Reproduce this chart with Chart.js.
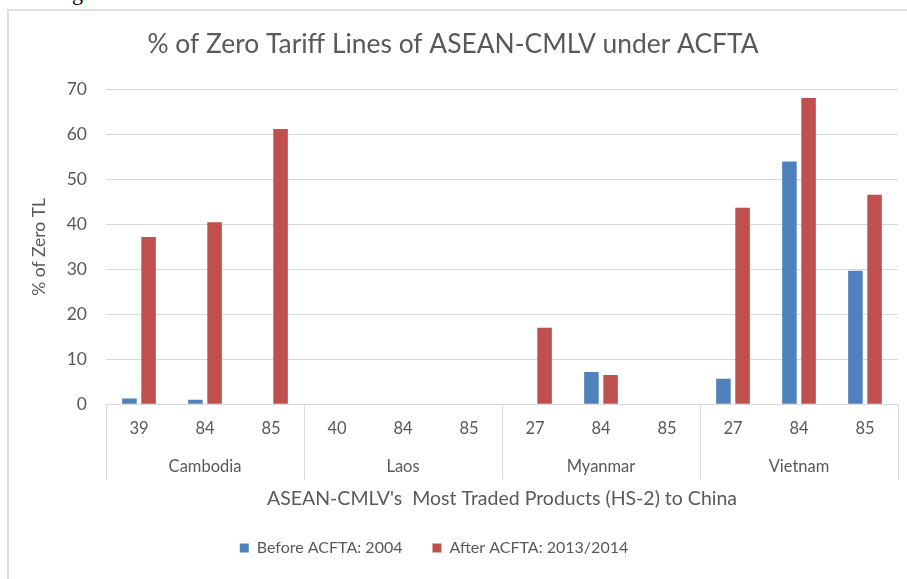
<!DOCTYPE html>
<html>
<head>
<meta charset="utf-8">
<script src="https://cdn.jsdelivr.net/npm/chart.js@4"></script>
<style>
  html, body { margin: 0; padding: 0; background: #ffffff; }
  #wrap { position: relative; width: 907px; height: 579px; overflow: hidden; background: #fff; }
  #frame { position: absolute; left: 7px; top: 9px; width: 920px; height: 600px;
           border-left: 2px solid #dcdcdc; border-top: 2px solid #e0e0e0; box-sizing: border-box; }
  #frag { position: absolute; left: 72px; top: -20px; font: 22px 'Liberation Serif'; color: #000; line-height: normal; }
  canvas { position: absolute; left: 0; top: 0; }
</style>
</head>
<body>
<div id="wrap">
  <div id="frag">g</div>
  <div id="frame"></div>
  <canvas id="c" width="907" height="579"></canvas>
</div>
<script>
const countries = ['Cambodia', 'Laos', 'Myanmar', 'Vietnam'];
const codes = ['39', '84', '85', '40', '84', '85', '27', '84', '85', '27', '84', '85'];
const beforeValues = [1.3, 1.0, 0, 0, 0, 0, 0, 7.2, 0, 5.7, 54.0, 29.7];
const afterValues = [37.2, 40.5, 61.2, 0, 0, 0, 17.0, 6.5, 0, 43.7, 68.1, 46.6];
const yTicks = [0, 10, 20, 30, 40, 50, 60, 70];
const seriesNames = ['Before ACFTA: 2004', 'After ACFTA: 2013/2014'];
const titleText = '% of Zero Tariff Lines of ASEAN-CMLV under ACFTA';
const xTitle = "ASEAN-CMLV's  Most Traded Products (HS-2) to China";
const yTitle = '% of Zero TL';

const FONT = 'Lato';
const TXT = '#595959';
const GRID = '#d9d9d9';

const groupPlugin = {
  id: 'groups',
  afterLayout(chart) {
    // legend in the reference sits a little left of the canvas centre
    const lg = chart.legend;
    if (lg) { lg.left -= 19; lg.right -= 19; }
  },
  afterDraw(chart) {
    const ctx = chart.ctx;
    const xs = chart.scales.x;
    const area = chart.chartArea;
    const n = codes.length;
    const per = n / countries.length;
    const step = (xs.right - xs.left) / n;
    ctx.save();
    ctx.strokeStyle = GRID;
    ctx.lineWidth = 1;
    for (let g = 0; g <= countries.length; g++) {
      const x = Math.round(xs.left + g * per * step) + 0.5;
      ctx.beginPath();
      ctx.moveTo(x, area.bottom);
      ctx.lineTo(x, area.bottom + 75);
      ctx.stroke();
    }
    ctx.fillStyle = TXT;
    ctx.font = '16.5px ' + FONT;
    ctx.textAlign = 'center';
    ctx.textBaseline = 'middle';
    countries.forEach((c, g) => {
      const x = xs.left + (g * per + per / 2) * step;
      ctx.fillText(c, x, area.bottom + 62);
    });
    ctx.restore();
  }
};

new Chart(document.getElementById('c'), {
  type: 'bar',
  data: {
    labels: codes,
    datasets: [
      { label: seriesNames[0], data: beforeValues, backgroundColor: '#4f81bd',
        categoryPercentage: 0.58, barPercentage: 0.76 },
      { label: seriesNames[1], data: afterValues, backgroundColor: '#c0504d',
        categoryPercentage: 0.58, barPercentage: 0.76 }
    ]
  },
  options: {
    responsive: false,
    animation: false,
    devicePixelRatio: 1,
    layout: { padding: { left: 8, top: 10, right: 9, bottom: 13 } },
    plugins: {
      title: {
        display: true, text: titleText, color: TXT,
        font: { family: FONT, size: 26.4, weight: 'normal' },
        padding: { top: 19, bottom: 28.8 }
      },
      legend: {
        display: true, position: 'bottom',
        labels: {
          color: TXT, font: { family: FONT, size: 16 },
          boxWidth: 9, boxHeight: 9, padding: 30
        }
      },
      tooltip: { enabled: false }
    },
    scales: {
      x: {
        grid: { display: false, drawTicks: false },
        border: { display: false },
        ticks: { color: TXT, font: { family: FONT, size: 16.5 }, padding: 14, maxRotation: 0, autoSkip: false },
        title: { display: true, text: xTitle, color: TXT, font: { family: FONT, size: 19.5 }, padding: { top: 0, bottom: 0 } },
        afterFit(s) { s.height = 105.7; }
      },
      y: {
        min: 0, max: 70,
        afterBuildTicks(s) { s.ticks = yTicks.map(v => ({ value: v })); },
        grid: { color: GRID, drawTicks: false },
        border: { display: false },
        ticks: { color: TXT, font: { family: FONT, size: 17.5 }, padding: 19 },
        title: { display: true, text: yTitle, color: TXT, font: { family: FONT, size: 17.5 }, padding: { top: 21, bottom: 0 } },
        afterFit(s) { s.width = 98; }
      }
    }
  },
  plugins: [groupPlugin]
});
</script>
</body>
</html>
